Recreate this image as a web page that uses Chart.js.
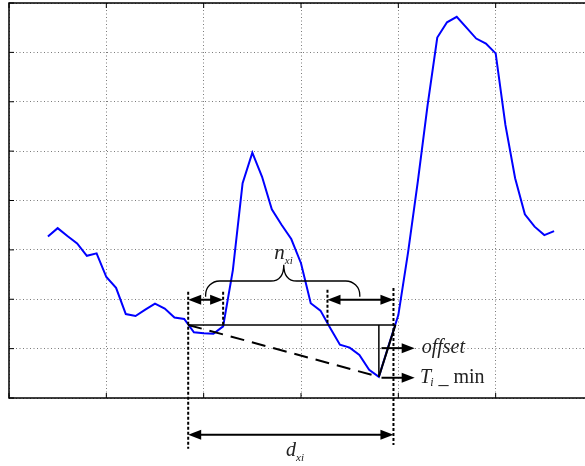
<!DOCTYPE html>
<html><head><meta charset="utf-8">
<script src="https://cdn.jsdelivr.net/npm/chart.js@4.4.1/dist/chart.umd.min.js"></script>
<style>
html,body{margin:0;padding:0;overflow:hidden;background:#fff;width:585px;height:466px}
#wrap{position:relative;width:600px;height:466px}
</style></head>
<body><div id="wrap"><canvas id="c" width="600" height="466"></canvas></div>
<script>
// ---- data ----
const sampleIndex = [4,5,6,7,8,9,10,11,12,13,14,15,16,17,18,19,20,21,22,23,24,25,26,27,28,29,30,
  31,32,33,34,35,36,37,38,39,40,41,42,43,44,45,46,47,48,49,50,51,52,53,54,55,56];
const signal = [3.27,3.44,3.28,3.13,2.88,2.93,2.45,2.23,1.70,1.66,1.79,1.91,1.81,1.63,1.60,1.33,1.31,1.30,1.45,2.59,
  4.35,4.97,4.48,3.82,3.51,3.22,2.73,1.92,1.77,1.42,1.08,1.02,0.87,0.57,0.43,1.06,1.68,2.95,4.38,5.92,
  7.30,7.61,7.72,7.50,7.28,7.18,6.98,5.53,4.45,3.72,3.47,3.30,3.38];
const xRange = [0, 60];
const yRange = [0, 8];
const xStep = 10, yStep = 1;

// annotation anchors (data units)
const thresholdLevel = 1.48;
const crossLeft = 18.41, crossRight = 39.7, dotRight = 39.5;
const innerLeft = 22.0, innerRight = 32.72;
const minIdx = 38, minVal = 0.43;
const arrowLevel = 1.99, bottomArrowLevel = -0.745;
const braceX = [20.2, 28.23, 36.04];
const braceY = [2.05, 2.37, 2.70];
const labels = {
  n: {text:'n', sub:'xi', x:27.26, y:2.81},
  offset: {text:'offset', x:42.40, y:0.92, arrowY:1.01},
  tmin: {text:'T', sub:'i', rest:'_', rest2:'min', x:42.23, y:0.30, arrowY:0.41},
  d: {text:'d', sub:'xi', x:28.46, y:-1.18}
};
const sideArrowX = [38.27, 41.68];

const overlay = {
  id:'overlay',
  afterDatasetsDraw(chart){
    const {ctx, chartArea:a, scales:{x:xs, y:ys}} = chart;
    const X=v=>xs.getPixelForValue(v), Y=v=>ys.getPixelForValue(v);
    const line=(x1,y1,x2,y2)=>{ctx.beginPath();ctx.moveTo(x1,y1);ctx.lineTo(x2,y2);ctx.stroke();};
    const head=(tx,ty,dir)=>{const L=13,H=5;ctx.beginPath();ctx.moveTo(tx,ty);ctx.lineTo(tx-dir*L,ty-H);ctx.lineTo(tx-dir*L,ty+H);ctx.closePath();ctx.fill();};
    const dbl=(x1,x2,y)=>{ctx.setLineDash([]);ctx.lineWidth=2;line(x1+8,y,x2-8,y);head(x1,y,-1);head(x2,y,1);};
    const dotted=(x,y1,y2)=>{ctx.setLineDash([3,2]);ctx.lineWidth=2;line(x,y1,x,y2);ctx.setLineDash([]);};
    ctx.save();
    ctx.strokeStyle='#000'; ctx.fillStyle='#000';
    // frame
    ctx.setLineDash([]); ctx.lineWidth=1.5;
    ctx.strokeRect(a.left,a.top,a.right-a.left,a.bottom-a.top);
    ctx.lineWidth=1;
    xs.ticks.forEach(t=>{const px=X(t.value);line(px,a.top,px,a.top+5);line(px,a.bottom,px,a.bottom-5);});
    ys.ticks.forEach(t=>{const py=Y(t.value);line(a.left,py,a.left+5,py);line(a.right,py,a.right-5,py);});
    // vertical dotted lines
    dotted(X(crossLeft), Y(2.15), Y(-1.03));
    dotted(X(dotRight), Y(2.23), Y(-0.95));
    dotted(X(innerLeft), Y(2.15), Y(thresholdLevel));
    dotted(X(innerRight), Y(2.19), Y(thresholdLevel));
    // double arrows
    dbl(X(crossLeft), X(innerLeft), Y(arrowLevel));
    dbl(X(innerRight), X(dotRight), Y(arrowLevel));
    dbl(X(crossLeft), X(dotRight), Y(bottomArrowLevel));
    // threshold line
    ctx.lineWidth=1.5;
    line(X(crossLeft), Y(thresholdLevel), X(crossRight), Y(thresholdLevel));
    line(X(minIdx), Y(thresholdLevel), X(minIdx), Y(minVal));
    ctx.lineWidth=2;
    line(X(minIdx), Y(minVal), X(crossRight), Y(thresholdLevel));
    ctx.setLineDash([14,8]);
    line(X(crossLeft), Y(thresholdLevel), X(minIdx), Y(minVal));
    ctx.setLineDash([]);
    // brace
    ctx.lineWidth=1.3;
    const xL=X(braceX[0]), xT=X(braceX[1]), xR=X(braceX[2]);
    const yE=Y(braceY[0]), yH=Y(braceY[1]), yT=Y(braceY[2]);
    ctx.beginPath();
    ctx.moveTo(xL,yE);
    ctx.arcTo(xL,yH,xL+14,yH,14);
    ctx.lineTo(xT-13,yH);
    ctx.quadraticCurveTo(xT,yH,xT,yT);
    ctx.quadraticCurveTo(xT,yH,xT+13,yH);
    ctx.lineTo(xR-14,yH);
    ctx.arcTo(xR,yH,xR,yE,14);
    ctx.lineTo(xR,yE);
    ctx.stroke();
    // side arrows
    ctx.lineWidth=2;
    [labels.offset.arrowY, labels.tmin.arrowY].forEach(v=>{
      const y=Y(v); line(X(sideArrowX[0]),y,X(sideArrowX[1])-8,y); head(X(sideArrowX[1]),y,1);
    });
    // texts
    ctx.textBaseline='alphabetic'; ctx.textAlign='left';
    const it=s=>`italic ${s}px "Liberation Serif"`;
    const subText=(L,size,subSize,dx,dy)=>{
      ctx.font=it(size); const x=X(L.x), y=Y(L.y);
      ctx.fillText(L.text,x,y);
      const w=ctx.measureText(L.text).width;
      ctx.font=it(subSize); ctx.fillText(L.sub,x+w+dx,y+dy);
      return x+w+dx+ctx.measureText(L.sub).width;
    };
    ctx.fillStyle='#222';
    subText(labels.n,21,11,0,5);
    subText(labels.d,20,11,0,5);
    ctx.font=it(20); ctx.fillText(labels.offset.text,X(labels.offset.x),Y(labels.offset.y));
    const endT=subText(labels.tmin,20,12,-1,3);
    ctx.font='20px "Liberation Serif"';
    ctx.fillText(labels.tmin.rest,endT+5,Y(labels.tmin.y));
    ctx.fillText(labels.tmin.rest2,endT+20,Y(labels.tmin.y));
    ctx.restore();
  }
};

new Chart(document.getElementById('c'),{
  type:'line',
  data:{datasets:[{
    data: sampleIndex.map((x,i)=>({x, y:signal[i]})),
    borderColor:'#0000ff', borderWidth:2, pointRadius:0, tension:0, fill:false
  }]},
  options:{
    responsive:false, animation:false, devicePixelRatio:1,
    layout:{padding:{left:9, top:3, right:7, bottom:68}},
    plugins:{legend:{display:false}, tooltip:{enabled:false}},
    scales:{
      x:{type:'linear', min:xRange[0], max:xRange[1],
         ticks:{display:false, stepSize:xStep},
         grid:{color:'#7a7a7a', lineWidth:1, drawTicks:false},
         border:{display:false, dash:[1,2.5]}},
      y:{type:'linear', min:yRange[0], max:yRange[1],
         ticks:{display:false, stepSize:yStep},
         grid:{color:'#7a7a7a', lineWidth:1, drawTicks:false},
         border:{display:false, dash:[1,2.5]}}
    }
  },
  plugins:[overlay]
});
</script>
</body></html>
